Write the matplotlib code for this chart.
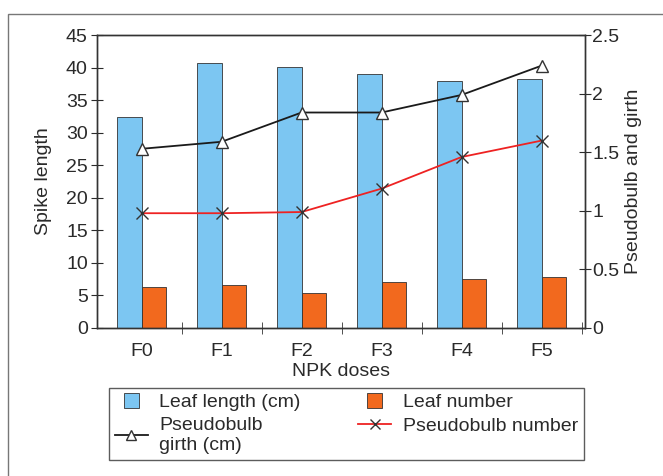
import matplotlib.pyplot as plt
from matplotlib.patches import Rectangle
from matplotlib.legend_handler import HandlerPatch
import numpy as np

doses = ['F0', 'F1', 'F2', 'F3', 'F4', 'F5']
leaf_length = [32.5, 40.7, 40.1, 39.0, 37.9, 38.2]
leaf_number = [6.3, 6.6, 5.3, 7.0, 7.6, 7.8]
girth = [1.53, 1.59, 1.84, 1.84, 1.99, 2.24]
bulb_number = [0.98, 0.98, 0.99, 1.19, 1.46, 1.60]

plt.rcParams['font.family'] = ['Liberation Sans', 'DejaVu Sans']
plt.rcParams['font.size'] = 14
txt = '#2a2a2a'


def square_patch(legend, orig_handle, xdescent, ydescent, width, height, fontsize):
    # small square box centred in the handle area, like the printed legend
    s = height * 1.1
    return Rectangle((width / 2 - s / 2 - xdescent, height / 2 - s / 2 - ydescent), s, s)


fig = plt.figure(figsize=(6.63, 4.76), dpi=100)
ax = fig.add_axes([0.146, 0.311, 0.736, 0.615])
ax2 = ax.twinx()

x = np.arange(len(doses))
w = 0.31
b1 = ax.bar(x - w / 2, leaf_length, w, color='#7cc6f2', edgecolor='#333333', linewidth=0.6)
b2 = ax.bar(x + w / 2, leaf_number, w, color='#f2691e', edgecolor='#333333', linewidth=0.6)

l1, = ax2.plot(x, girth, color='#1a1a1a', lw=1.3, marker='^', markersize=9,
               markerfacecolor='white', markeredgecolor='#333333')
l2, = ax2.plot(x, bulb_number, color='#ee2222', lw=1.3, marker='x', markersize=9,
               markeredgecolor='#333333')

ax.set_xlim(-0.56, 5.54)
ax.set_ylim(0, 45)
ax.set_yticks(range(0, 46, 5))
ax2.set_ylim(0, 2.5)
ax2.set_yticks([0, 0.5, 1, 1.5, 2, 2.5])
ax2.set_yticklabels(['0', '0.5', '1', '1.5', '2', '2.5'])

ax.set_xticks(x)
ax.set_xticklabels(doses)
ax.set_xticks(np.arange(0.5, 5.6, 1), minor=True)
ax.tick_params(axis='x', which='major', length=0, pad=11, colors=txt)
ax.tick_params(axis='x', which='minor', direction='inout', length=8, color='#333333')
ax.tick_params(axis='y', direction='inout', length=9, pad=2, colors=txt)
ax2.tick_params(axis='y', direction='inout', length=9, pad=1, colors=txt)

for a in (ax, ax2):
    for s in a.spines.values():
        s.set_color('#333333')
        s.set_linewidth(1.0)

ax.set_xlabel('NPK doses', color=txt, labelpad=2)
ax.set_ylabel('Spike length', color=txt, labelpad=10)
ax2.set_ylabel('Pseudobulb and girth', color=txt, labelpad=4)

leg = fig.legend([b1[0], l1, b2[0], l2],
                 ['Leaf length (cm)', 'Pseudobulb\ngirth (cm)', 'Leaf number', 'Pseudobulb number'],
                 ncol=2, loc='upper left', bbox_to_anchor=(0.164, 0.015, 0.717, 0.170),
                 mode='expand', frameon=True, fancybox=False, handlelength=1.7,
                 columnspacing=1.0, labelspacing=0.3, borderaxespad=0, borderpad=0.3,
                 handletextpad=0.6, markerscale=0.75,
                 handler_map={Rectangle: HandlerPatch(patch_func=square_patch)})
leg.get_frame().set_edgecolor('#333333')
leg.get_frame().set_linewidth(1.0)
for t in leg.get_texts():
    t.set_color(txt)

fig.patches.append(Rectangle((0.012, -0.1), 1.1, 1.071, transform=fig.transFigure,
                             fill=False, edgecolor='#777777', linewidth=1.0))

fig.savefig('out.png', dpi=100)
